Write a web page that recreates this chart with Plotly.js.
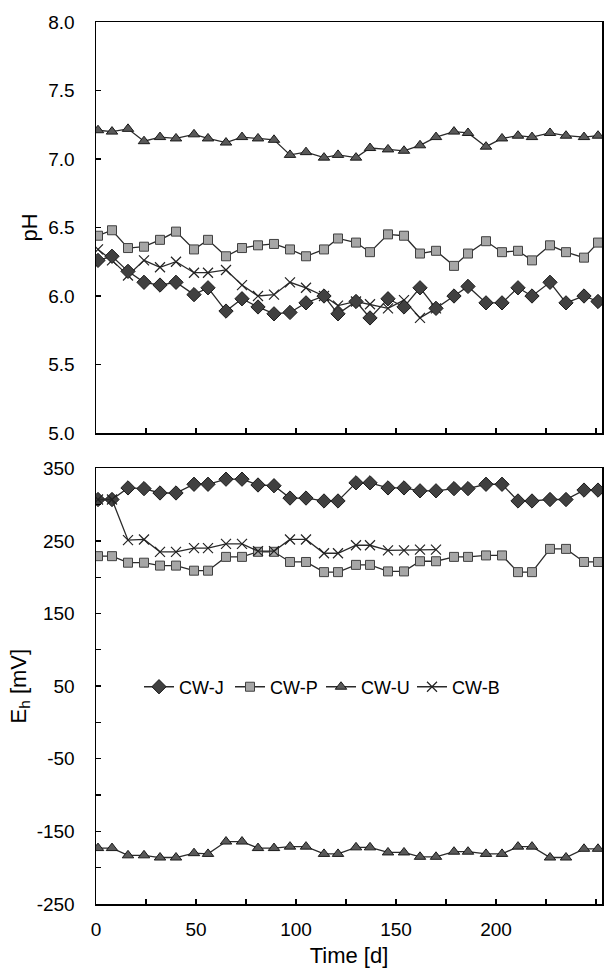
<!DOCTYPE html>
<html>
<head>
<meta charset="utf-8">
<script src="https://cdn.plot.ly/plotly-3.0.1.min.js"></script>
<style>html,body{margin:0;padding:0;background:#fff}#chart{width:616px;height:970px}</style>
</head>
<body>
<div id="chart"></div>
<script>
// Sampling days
const days = [1, 8, 16, 24, 32, 40, 49, 56, 65, 73, 81, 89, 97, 105, 114, 121,
              130, 137, 146, 154, 162, 170, 179, 186, 195, 203, 211, 218, 227, 235, 244, 251];
const daysB = days.slice(0, 22);

// pH
const phJ = [6.26, 6.29, 6.18, 6.10, 6.08, 6.10, 6.01, 6.06, 5.89, 5.98, 5.92, 5.87, 5.88, 5.95, 6.00, 5.87,
             5.96, 5.84, 5.98, 5.92, 6.06, 5.91, 6.00, 6.07, 5.95, 5.95, 6.06, 6.00, 6.10, 5.95, 6.00, 5.96];
const phP = [6.44, 6.48, 6.35, 6.36, 6.41, 6.47, 6.34, 6.41, 6.29, 6.35, 6.37, 6.38, 6.34, 6.29, 6.34, 6.42,
             6.39, 6.32, 6.45, 6.44, 6.31, 6.33, 6.22, 6.31, 6.40, 6.32, 6.33, 6.26, 6.37, 6.32, 6.28, 6.39];
const phU = [7.21, 7.20, 7.22, 7.13, 7.16, 7.15, 7.18, 7.15, 7.12, 7.16, 7.15, 7.14, 7.03, 7.05, 7.01, 7.03,
             7.01, 7.08, 7.07, 7.06, 7.10, 7.16, 7.20, 7.19, 7.09, 7.15, 7.17, 7.16, 7.19, 7.17, 7.16, 7.17];
const phB = [6.34, 6.26, 6.15, 6.26, 6.21, 6.25, 6.17, 6.17, 6.19, 6.08, 6.00, 6.01, 6.10, 6.06, 6.00, 5.93,
             5.96, 5.94, 5.91, 5.97, 5.84, 5.91];

// Eh [mV]
const ehJ = [307, 307, 323, 322, 316, 316, 328, 328, 335, 335, 327, 326, 309, 309, 305, 305,
             330, 330, 323, 323, 319, 319, 322, 322, 328, 328, 305, 305, 307, 307, 320, 320];
const ehP = [229, 229, 220, 220, 216, 216, 209, 209, 228, 228, 235, 235, 221, 221, 207, 207,
             217, 217, 208, 208, 222, 222, 228, 228, 230, 230, 207, 207, 239, 239, 221, 221];
const ehU = [-173, -173, -183, -183, -186, -186, -180, -181, -164, -164, -173, -173, -171, -171, -181, -181,
             -172, -172, -179, -179, -185, -185, -178, -178, -181, -181, -171, -171, -186, -186, -174, -174];
const ehB = [307, 307, 251, 252, 235, 235, 240, 240, 246, 246, 236, 236, 252, 252, 233, 233,
             244, 244, 237, 237, 238, 238];

const xTicks = [0, 50, 100, 150, 200];
const phTicks = [5.0, 5.5, 6.0, 6.5, 7.0, 7.5, 8.0];
const ehTicks = [-250, -150, -50, 50, 150, 250, 350];

const lineStyle = {color: '#2a2a2a', width: 1.3};
const stJ = {symbol: 'diamond', size: 11, color: '#404040', line: {color: '#1a1a1a', width: 1}};
const stP = {symbol: 'square', size: 9, color: '#a6a6a6', line: {color: '#404040', width: 1}};
const stU = {symbol: 'triangle-up', size: 10, color: '#595959', line: {color: '#1a1a1a', width: 1}};
const stB = {symbol: 'x-thin-open', size: 10, color: '#222', line: {color: '#222', width: 1.2}};

function tr(name, x, y, mk, xa, ya, show) {
  return {type: 'scatter', mode: 'lines+markers', name: name, x: x, y: y,
          xaxis: xa, yaxis: ya, line: lineStyle, marker: mk, showlegend: show};
}

const data = [
  tr('CW-U', days, phU, stU, 'x', 'y', false),
  tr('CW-P', days, phP, stP, 'x', 'y', false),
  tr('CW-B', daysB, phB, stB, 'x', 'y', false),
  tr('CW-J', days, phJ, stJ, 'x', 'y', false),
  tr('CW-J', days, ehJ, stJ, 'x2', 'y2', true),
  tr('CW-P', days, ehP, stP, 'x2', 'y2', true),
  tr('CW-U', days, ehU, stU, 'x2', 'y2', true),
  tr('CW-B', daysB, ehB, stB, 'x2', 'y2', true)
];

const fam = 'Liberation Sans, Arial, sans-serif';
const tickFont = {family: fam, size: 19, color: '#000'};
const titleFont = {family: fam, size: 22, color: '#000'};
const axBase = {
  showline: true, linecolor: '#000', linewidth: 1.5, mirror: true,
  ticks: 'inside', ticklen: 5, tickwidth: 1.3, tickcolor: '#000',
  showgrid: false, zeroline: false, tickfont: tickFont
};
const minorX = {dtick: 25, tick0: 0, ticks: 'inside', ticklen: 5, tickcolor: '#000', tickwidth: 1.3};

const layout = {
  width: 616, height: 970,
  margin: {l: 96, r: 14, t: 22, b: 66},
  paper_bgcolor: '#fff', plot_bgcolor: '#fff',
  font: tickFont,
  xaxis: Object.assign({}, axBase, {
    domain: [0, 1], anchor: 'y', range: [0, 253],
    tickvals: xTicks, showticklabels: false, minor: minorX
  }),
  yaxis: Object.assign({}, axBase, {
    domain: [0.534, 1], anchor: 'x', range: [5, 8],
    tickvals: phTicks, ticktext: phTicks.map(v => v.toFixed(1)),
    ticklabelstandoff: 16,
    title: {text: 'pH', font: titleFont, standoff: 4}
  }),
  xaxis2: Object.assign({}, axBase, {
    domain: [0, 1], anchor: 'y2', range: [0, 253],
    tickvals: xTicks, ticklabelstandoff: 8, minor: minorX,
    title: {text: 'Time [d]', font: titleFont, standoff: 8}
  }),
  yaxis2: Object.assign({}, axBase, {
    domain: [0, 0.494], anchor: 'x2', range: [-250, 350],
    tickvals: ehTicks, ticktext: ehTicks.map(v => String(v)),
    ticklabelstandoff: 16,
    minor: {dtick: 50, tick0: 0, ticks: 'inside', ticklen: 5, tickcolor: '#000', tickwidth: 1.3},
    title: {text: 'E<sub>h</sub> [mV]', font: titleFont, standoff: 4}
  }),
  legend: {
    orientation: 'h', x: 0.085, xanchor: 'left', y: 0.246, yanchor: 'middle',
    bgcolor: 'rgba(0,0,0,0)', font: {family: fam, size: 18, color: '#000'},
    entrywidth: 46, entrywidthmode: 'pixels', traceorder: 'normal', itemwidth: 30
  },
  showlegend: true
};

Plotly.newPlot('chart', data, layout, {staticPlot: true, displayModeBar: false});
</script>
</body>
</html>
